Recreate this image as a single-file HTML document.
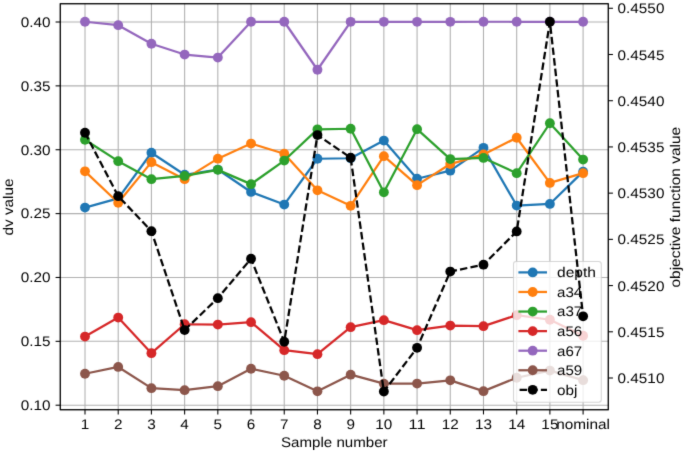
<!DOCTYPE html>
<html><head><meta charset="utf-8"><title>chart</title>
<style>html,body{margin:0;padding:0;background:#fff;width:685px;height:453px;overflow:hidden}text{font-family:"Liberation Sans",sans-serif;text-rendering:geometricPrecision}</style>
</head><body>
<svg width="685" height="453" viewBox="0 0 685 453" style="display:block;will-change:transform">
<defs><filter id="soft" x="0" y="0" width="685" height="453" filterUnits="userSpaceOnUse" color-interpolation-filters="sRGB"><feConvolveMatrix order="3" kernelMatrix="0.01134 0.08382 0.01134 0.08382 0.61935 0.08382 0.01134 0.08382 0.01134" edgeMode="duplicate"/></filter></defs>
<rect width="685" height="453" fill="#ffffff"/>
<g filter="url(#soft)">
<g stroke="#b0b0b0" stroke-width="1.070" fill="none">
<line x1="85.00" y1="3.75" x2="85.00" y2="409.75"/>
<line x1="118.21" y1="3.75" x2="118.21" y2="409.75"/>
<line x1="151.41" y1="3.75" x2="151.41" y2="409.75"/>
<line x1="184.62" y1="3.75" x2="184.62" y2="409.75"/>
<line x1="217.83" y1="3.75" x2="217.83" y2="409.75"/>
<line x1="251.03" y1="3.75" x2="251.03" y2="409.75"/>
<line x1="284.24" y1="3.75" x2="284.24" y2="409.75"/>
<line x1="317.45" y1="3.75" x2="317.45" y2="409.75"/>
<line x1="350.65" y1="3.75" x2="350.65" y2="409.75"/>
<line x1="383.86" y1="3.75" x2="383.86" y2="409.75"/>
<line x1="417.07" y1="3.75" x2="417.07" y2="409.75"/>
<line x1="450.27" y1="3.75" x2="450.27" y2="409.75"/>
<line x1="483.48" y1="3.75" x2="483.48" y2="409.75"/>
<line x1="516.69" y1="3.75" x2="516.69" y2="409.75"/>
<line x1="549.89" y1="3.75" x2="549.89" y2="409.75"/>
<line x1="583.10" y1="3.75" x2="583.10" y2="409.75"/>
<line x1="60.26" y1="405.20" x2="608.26" y2="405.20"/>
<line x1="60.26" y1="341.33" x2="608.26" y2="341.33"/>
<line x1="60.26" y1="277.47" x2="608.26" y2="277.47"/>
<line x1="60.26" y1="213.60" x2="608.26" y2="213.60"/>
<line x1="60.26" y1="149.73" x2="608.26" y2="149.73"/>
<line x1="60.26" y1="85.87" x2="608.26" y2="85.87"/>
<line x1="60.26" y1="22.00" x2="608.26" y2="22.00"/>
</g>
<polyline points="85.00,207.55 118.21,198.35 151.41,152.75 184.62,174.75 217.83,169.55 251.03,191.95 284.24,204.55 317.45,158.75 350.65,158.25 383.86,140.55 417.07,178.75 450.27,170.65 483.48,147.85 516.69,205.55 549.89,203.95 583.10,171.65" fill="none" stroke="#1f77b4" stroke-width="2.250" stroke-linejoin="round" stroke-linecap="butt"/>
<g fill="#1f77b4">
<circle cx="85.00" cy="207.55" r="4.920"/>
<circle cx="118.21" cy="198.35" r="4.920"/>
<circle cx="151.41" cy="152.75" r="4.920"/>
<circle cx="184.62" cy="174.75" r="4.920"/>
<circle cx="217.83" cy="169.55" r="4.920"/>
<circle cx="251.03" cy="191.95" r="4.920"/>
<circle cx="284.24" cy="204.55" r="4.920"/>
<circle cx="317.45" cy="158.75" r="4.920"/>
<circle cx="350.65" cy="158.25" r="4.920"/>
<circle cx="383.86" cy="140.55" r="4.920"/>
<circle cx="417.07" cy="178.75" r="4.920"/>
<circle cx="450.27" cy="170.65" r="4.920"/>
<circle cx="483.48" cy="147.85" r="4.920"/>
<circle cx="516.69" cy="205.55" r="4.920"/>
<circle cx="549.89" cy="203.95" r="4.920"/>
<circle cx="583.10" cy="171.65" r="4.920"/>
</g>
<polyline points="85.00,171.35 118.21,202.75 151.41,162.15 184.62,179.15 217.83,158.65 251.03,143.55 284.24,153.75 317.45,190.35 350.65,205.85 383.86,156.15 417.07,185.15 450.27,164.05 483.48,154.45 516.69,137.75 549.89,182.95 583.10,173.15" fill="none" stroke="#ff7f0e" stroke-width="2.250" stroke-linejoin="round" stroke-linecap="butt"/>
<g fill="#ff7f0e">
<circle cx="85.00" cy="171.35" r="4.920"/>
<circle cx="118.21" cy="202.75" r="4.920"/>
<circle cx="151.41" cy="162.15" r="4.920"/>
<circle cx="184.62" cy="179.15" r="4.920"/>
<circle cx="217.83" cy="158.65" r="4.920"/>
<circle cx="251.03" cy="143.55" r="4.920"/>
<circle cx="284.24" cy="153.75" r="4.920"/>
<circle cx="317.45" cy="190.35" r="4.920"/>
<circle cx="350.65" cy="205.85" r="4.920"/>
<circle cx="383.86" cy="156.15" r="4.920"/>
<circle cx="417.07" cy="185.15" r="4.920"/>
<circle cx="450.27" cy="164.05" r="4.920"/>
<circle cx="483.48" cy="154.45" r="4.920"/>
<circle cx="516.69" cy="137.75" r="4.920"/>
<circle cx="549.89" cy="182.95" r="4.920"/>
<circle cx="583.10" cy="173.15" r="4.920"/>
</g>
<polyline points="85.00,139.75 118.21,161.15 151.41,179.15 184.62,175.95 217.83,169.85 251.03,184.15 284.24,160.55 317.45,129.35 350.65,128.75 383.86,192.35 417.07,129.15 450.27,159.05 483.48,157.95 516.69,173.15 549.89,123.25 583.10,159.55" fill="none" stroke="#2ca02c" stroke-width="2.250" stroke-linejoin="round" stroke-linecap="butt"/>
<g fill="#2ca02c">
<circle cx="85.00" cy="139.75" r="4.920"/>
<circle cx="118.21" cy="161.15" r="4.920"/>
<circle cx="151.41" cy="179.15" r="4.920"/>
<circle cx="184.62" cy="175.95" r="4.920"/>
<circle cx="217.83" cy="169.85" r="4.920"/>
<circle cx="251.03" cy="184.15" r="4.920"/>
<circle cx="284.24" cy="160.55" r="4.920"/>
<circle cx="317.45" cy="129.35" r="4.920"/>
<circle cx="350.65" cy="128.75" r="4.920"/>
<circle cx="383.86" cy="192.35" r="4.920"/>
<circle cx="417.07" cy="129.15" r="4.920"/>
<circle cx="450.27" cy="159.05" r="4.920"/>
<circle cx="483.48" cy="157.95" r="4.920"/>
<circle cx="516.69" cy="173.15" r="4.920"/>
<circle cx="549.89" cy="123.25" r="4.920"/>
<circle cx="583.10" cy="159.55" r="4.920"/>
</g>
<polyline points="85.00,336.55 118.21,317.55 151.41,353.15 184.62,324.25 217.83,324.55 251.03,322.15 284.24,350.15 317.45,354.15 350.65,327.15 383.86,320.15 417.07,330.15 450.27,325.55 483.48,326.15 516.69,315.15 549.89,319.75 583.10,335.75" fill="none" stroke="#d62728" stroke-width="2.250" stroke-linejoin="round" stroke-linecap="butt"/>
<g fill="#d62728">
<circle cx="85.00" cy="336.55" r="4.920"/>
<circle cx="118.21" cy="317.55" r="4.920"/>
<circle cx="151.41" cy="353.15" r="4.920"/>
<circle cx="184.62" cy="324.25" r="4.920"/>
<circle cx="217.83" cy="324.55" r="4.920"/>
<circle cx="251.03" cy="322.15" r="4.920"/>
<circle cx="284.24" cy="350.15" r="4.920"/>
<circle cx="317.45" cy="354.15" r="4.920"/>
<circle cx="350.65" cy="327.15" r="4.920"/>
<circle cx="383.86" cy="320.15" r="4.920"/>
<circle cx="417.07" cy="330.15" r="4.920"/>
<circle cx="450.27" cy="325.55" r="4.920"/>
<circle cx="483.48" cy="326.15" r="4.920"/>
<circle cx="516.69" cy="315.15" r="4.920"/>
<circle cx="549.89" cy="319.75" r="4.920"/>
<circle cx="583.10" cy="335.75" r="4.920"/>
</g>
<polyline points="85.00,21.75 118.21,25.15 151.41,43.75 184.62,54.55 217.83,57.55 251.03,21.75 284.24,21.75 317.45,69.75 350.65,21.85 383.86,21.85 417.07,21.85 450.27,21.85 483.48,21.75 516.69,21.75 549.89,21.75 583.10,21.75" fill="none" stroke="#9467bd" stroke-width="2.250" stroke-linejoin="round" stroke-linecap="butt"/>
<g fill="#9467bd">
<circle cx="85.00" cy="21.75" r="4.920"/>
<circle cx="118.21" cy="25.15" r="4.920"/>
<circle cx="151.41" cy="43.75" r="4.920"/>
<circle cx="184.62" cy="54.55" r="4.920"/>
<circle cx="217.83" cy="57.55" r="4.920"/>
<circle cx="251.03" cy="21.75" r="4.920"/>
<circle cx="284.24" cy="21.75" r="4.920"/>
<circle cx="317.45" cy="69.75" r="4.920"/>
<circle cx="350.65" cy="21.85" r="4.920"/>
<circle cx="383.86" cy="21.85" r="4.920"/>
<circle cx="417.07" cy="21.85" r="4.920"/>
<circle cx="450.27" cy="21.85" r="4.920"/>
<circle cx="483.48" cy="21.75" r="4.920"/>
<circle cx="516.69" cy="21.75" r="4.920"/>
<circle cx="549.89" cy="21.75" r="4.920"/>
<circle cx="583.10" cy="21.75" r="4.920"/>
</g>
<polyline points="85.00,373.75 118.21,366.95 151.41,388.15 184.62,390.15 217.83,386.15 251.03,368.75 284.24,375.75 317.45,391.35 350.65,374.65 383.86,383.65 417.07,383.55 450.27,380.35 483.48,391.15 516.69,377.75 549.89,370.55 583.10,380.15" fill="none" stroke="#8c564b" stroke-width="2.250" stroke-linejoin="round" stroke-linecap="butt"/>
<g fill="#8c564b">
<circle cx="85.00" cy="373.75" r="4.920"/>
<circle cx="118.21" cy="366.95" r="4.920"/>
<circle cx="151.41" cy="388.15" r="4.920"/>
<circle cx="184.62" cy="390.15" r="4.920"/>
<circle cx="217.83" cy="386.15" r="4.920"/>
<circle cx="251.03" cy="368.75" r="4.920"/>
<circle cx="284.24" cy="375.75" r="4.920"/>
<circle cx="317.45" cy="391.35" r="4.920"/>
<circle cx="350.65" cy="374.65" r="4.920"/>
<circle cx="383.86" cy="383.65" r="4.920"/>
<circle cx="417.07" cy="383.55" r="4.920"/>
<circle cx="450.27" cy="380.35" r="4.920"/>
<circle cx="483.48" cy="391.15" r="4.920"/>
<circle cx="516.69" cy="377.75" r="4.920"/>
<circle cx="549.89" cy="370.55" r="4.920"/>
<circle cx="583.10" cy="380.15" r="4.920"/>
</g>
<rect x="60.26" y="3.75" width="548.00" height="406.00" fill="none" stroke="#000" stroke-width="0.95"/>
<g stroke="#000" stroke-width="1.070">
<line x1="85.00" y1="409.75" x2="85.00" y2="414.43"/>
<line x1="118.21" y1="409.75" x2="118.21" y2="414.43"/>
<line x1="151.41" y1="409.75" x2="151.41" y2="414.43"/>
<line x1="184.62" y1="409.75" x2="184.62" y2="414.43"/>
<line x1="217.83" y1="409.75" x2="217.83" y2="414.43"/>
<line x1="251.03" y1="409.75" x2="251.03" y2="414.43"/>
<line x1="284.24" y1="409.75" x2="284.24" y2="414.43"/>
<line x1="317.45" y1="409.75" x2="317.45" y2="414.43"/>
<line x1="350.65" y1="409.75" x2="350.65" y2="414.43"/>
<line x1="383.86" y1="409.75" x2="383.86" y2="414.43"/>
<line x1="417.07" y1="409.75" x2="417.07" y2="414.43"/>
<line x1="450.27" y1="409.75" x2="450.27" y2="414.43"/>
<line x1="483.48" y1="409.75" x2="483.48" y2="414.43"/>
<line x1="516.69" y1="409.75" x2="516.69" y2="414.43"/>
<line x1="549.89" y1="409.75" x2="549.89" y2="414.43"/>
<line x1="583.10" y1="409.75" x2="583.10" y2="414.43"/>
<line x1="60.26" y1="405.20" x2="55.58" y2="405.20"/>
<line x1="60.26" y1="341.33" x2="55.58" y2="341.33"/>
<line x1="60.26" y1="277.47" x2="55.58" y2="277.47"/>
<line x1="60.26" y1="213.60" x2="55.58" y2="213.60"/>
<line x1="60.26" y1="149.73" x2="55.58" y2="149.73"/>
<line x1="60.26" y1="85.87" x2="55.58" y2="85.87"/>
<line x1="60.26" y1="22.00" x2="55.58" y2="22.00"/>
</g>
<g font-family="Liberation Sans, sans-serif" font-size="14.0" fill="#000">
<text x="85.00" y="428.90" text-anchor="middle" textLength="8.51" lengthAdjust="spacingAndGlyphs">1</text>
<text x="118.21" y="428.90" text-anchor="middle" textLength="8.51" lengthAdjust="spacingAndGlyphs">2</text>
<text x="151.41" y="428.90" text-anchor="middle" textLength="8.51" lengthAdjust="spacingAndGlyphs">3</text>
<text x="184.62" y="428.90" text-anchor="middle" textLength="8.51" lengthAdjust="spacingAndGlyphs">4</text>
<text x="217.83" y="428.90" text-anchor="middle" textLength="8.51" lengthAdjust="spacingAndGlyphs">5</text>
<text x="251.03" y="428.90" text-anchor="middle" textLength="8.51" lengthAdjust="spacingAndGlyphs">6</text>
<text x="284.24" y="428.90" text-anchor="middle" textLength="8.51" lengthAdjust="spacingAndGlyphs">7</text>
<text x="317.45" y="428.90" text-anchor="middle" textLength="8.51" lengthAdjust="spacingAndGlyphs">8</text>
<text x="350.65" y="428.90" text-anchor="middle" textLength="8.51" lengthAdjust="spacingAndGlyphs">9</text>
<text x="383.86" y="428.90" text-anchor="middle" textLength="17.01" lengthAdjust="spacingAndGlyphs">10</text>
<text x="417.07" y="428.90" text-anchor="middle" textLength="17.01" lengthAdjust="spacingAndGlyphs">11</text>
<text x="450.27" y="428.90" text-anchor="middle" textLength="17.01" lengthAdjust="spacingAndGlyphs">12</text>
<text x="483.48" y="428.90" text-anchor="middle" textLength="17.01" lengthAdjust="spacingAndGlyphs">13</text>
<text x="516.69" y="428.90" text-anchor="middle" textLength="17.01" lengthAdjust="spacingAndGlyphs">14</text>
<text x="549.89" y="428.90" text-anchor="middle" textLength="17.01" lengthAdjust="spacingAndGlyphs">15</text>
<text x="583.10" y="428.90" text-anchor="middle" textLength="53.77" lengthAdjust="spacingAndGlyphs">nominal</text>
<text x="50.60" y="409.98" text-anchor="end" textLength="29.77" lengthAdjust="spacingAndGlyphs">0.10</text>
<text x="50.60" y="346.11" text-anchor="end" textLength="29.77" lengthAdjust="spacingAndGlyphs">0.15</text>
<text x="50.60" y="282.25" text-anchor="end" textLength="29.77" lengthAdjust="spacingAndGlyphs">0.20</text>
<text x="50.60" y="218.38" text-anchor="end" textLength="29.77" lengthAdjust="spacingAndGlyphs">0.25</text>
<text x="50.60" y="154.51" text-anchor="end" textLength="29.77" lengthAdjust="spacingAndGlyphs">0.30</text>
<text x="50.60" y="90.65" text-anchor="end" textLength="29.77" lengthAdjust="spacingAndGlyphs">0.35</text>
<text x="50.60" y="26.78" text-anchor="end" textLength="29.77" lengthAdjust="spacingAndGlyphs">0.40</text>
<text x="334.30" y="447.10" text-anchor="middle" textLength="106.56" lengthAdjust="spacingAndGlyphs">Sample number</text>
<text x="13.00" y="207.00" text-anchor="middle" textLength="57.17" lengthAdjust="spacingAndGlyphs" transform="rotate(-90 13.00 207.00)">dv value</text>
</g>
<rect x="513.5" y="261.5" width="87.80" height="140.80" rx="2.7" ry="2.7" fill="#ffffff" fill-opacity="0.8" stroke="#cccccc" stroke-opacity="0.8" stroke-width="1.070"/>
<g font-family="Liberation Sans, sans-serif" font-size="14.0" fill="#000">
<line x1="518.4" y1="272.40" x2="547.0" y2="272.40" stroke="#1f77b4" stroke-width="2.250"/>
<circle cx="532.70" cy="272.40" r="4.920" fill="#1f77b4"/>
<text x="557.00" y="277.30" text-anchor="start" textLength="38.92" lengthAdjust="spacingAndGlyphs">depth</text>
<line x1="518.4" y1="291.97" x2="547.0" y2="291.97" stroke="#ff7f0e" stroke-width="2.250"/>
<circle cx="532.70" cy="291.97" r="4.920" fill="#ff7f0e"/>
<text x="557.00" y="296.87" text-anchor="start" textLength="25.21" lengthAdjust="spacingAndGlyphs">a34</text>
<line x1="518.4" y1="311.55" x2="547.0" y2="311.55" stroke="#2ca02c" stroke-width="2.250"/>
<circle cx="532.70" cy="311.55" r="4.920" fill="#2ca02c"/>
<text x="557.00" y="316.45" text-anchor="start" textLength="25.21" lengthAdjust="spacingAndGlyphs">a37</text>
<line x1="518.4" y1="331.12" x2="547.0" y2="331.12" stroke="#d62728" stroke-width="2.250"/>
<circle cx="532.70" cy="331.12" r="4.920" fill="#d62728"/>
<text x="557.00" y="336.02" text-anchor="start" textLength="25.21" lengthAdjust="spacingAndGlyphs">a56</text>
<line x1="518.4" y1="350.70" x2="547.0" y2="350.70" stroke="#9467bd" stroke-width="2.250"/>
<circle cx="532.70" cy="350.70" r="4.920" fill="#9467bd"/>
<text x="557.00" y="355.60" text-anchor="start" textLength="25.21" lengthAdjust="spacingAndGlyphs">a67</text>
<line x1="518.4" y1="370.27" x2="547.0" y2="370.27" stroke="#8c564b" stroke-width="2.250"/>
<circle cx="532.70" cy="370.27" r="4.920" fill="#8c564b"/>
<text x="557.00" y="375.17" text-anchor="start" textLength="25.21" lengthAdjust="spacingAndGlyphs">a59</text>
<line x1="518.4" y1="389.85" x2="547.0" y2="389.85" stroke="#000000" stroke-width="2.250" stroke-dasharray="7.420 3.209" stroke-dashoffset="9.43"/>
<circle cx="532.70" cy="389.85" r="4.920" fill="#000000"/>
<text x="557.00" y="394.75" text-anchor="start" textLength="20.38" lengthAdjust="spacingAndGlyphs">obj</text>
</g>
<polyline points="85.00,132.75 118.21,196.15 151.41,231.15 184.62,330.05 217.83,298.15 251.03,258.75 284.24,341.75 317.45,135.05 350.65,157.75 383.86,391.55 417.07,347.85 450.27,271.55 483.48,264.65 516.69,231.45 549.89,21.75 583.10,316.35" fill="none" stroke="#000000" stroke-width="2.250" stroke-linejoin="round" stroke-linecap="butt" stroke-dasharray="7.443 3.219"/>
<g fill="#000000">
<circle cx="85.00" cy="132.75" r="4.920"/>
<circle cx="118.21" cy="196.15" r="4.920"/>
<circle cx="151.41" cy="231.15" r="4.920"/>
<circle cx="184.62" cy="330.05" r="4.920"/>
<circle cx="217.83" cy="298.15" r="4.920"/>
<circle cx="251.03" cy="258.75" r="4.920"/>
<circle cx="284.24" cy="341.75" r="4.920"/>
<circle cx="317.45" cy="135.05" r="4.920"/>
<circle cx="350.65" cy="157.75" r="4.920"/>
<circle cx="383.86" cy="391.55" r="4.920"/>
<circle cx="417.07" cy="347.85" r="4.920"/>
<circle cx="450.27" cy="271.55" r="4.920"/>
<circle cx="483.48" cy="264.65" r="4.920"/>
<circle cx="516.69" cy="231.45" r="4.920"/>
<circle cx="549.89" cy="21.75" r="4.920"/>
<circle cx="583.10" cy="316.35" r="4.920"/>
</g>
<rect x="60.26" y="3.75" width="548.00" height="406.00" fill="none" stroke="#000" stroke-width="0.95"/>
<g stroke="#000" stroke-width="1.070">
<line x1="608.26" y1="378.00" x2="612.94" y2="378.00"/>
<line x1="608.26" y1="331.79" x2="612.94" y2="331.79"/>
<line x1="608.26" y1="285.57" x2="612.94" y2="285.57"/>
<line x1="608.26" y1="239.36" x2="612.94" y2="239.36"/>
<line x1="608.26" y1="193.14" x2="612.94" y2="193.14"/>
<line x1="608.26" y1="146.93" x2="612.94" y2="146.93"/>
<line x1="608.26" y1="100.71" x2="612.94" y2="100.71"/>
<line x1="608.26" y1="54.50" x2="612.94" y2="54.50"/>
<line x1="608.26" y1="8.28" x2="612.94" y2="8.28"/>
</g>
<g font-family="Liberation Sans, sans-serif" font-size="14.0" fill="#000">
<text x="617.62" y="383.08" text-anchor="start" textLength="46.78" lengthAdjust="spacingAndGlyphs">0.4510</text>
<text x="617.62" y="336.87" text-anchor="start" textLength="46.78" lengthAdjust="spacingAndGlyphs">0.4515</text>
<text x="617.62" y="290.65" text-anchor="start" textLength="46.78" lengthAdjust="spacingAndGlyphs">0.4520</text>
<text x="617.62" y="244.44" text-anchor="start" textLength="46.78" lengthAdjust="spacingAndGlyphs">0.4525</text>
<text x="617.62" y="198.22" text-anchor="start" textLength="46.78" lengthAdjust="spacingAndGlyphs">0.4530</text>
<text x="617.62" y="152.01" text-anchor="start" textLength="46.78" lengthAdjust="spacingAndGlyphs">0.4535</text>
<text x="617.62" y="105.79" text-anchor="start" textLength="46.78" lengthAdjust="spacingAndGlyphs">0.4540</text>
<text x="617.62" y="59.58" text-anchor="start" textLength="46.78" lengthAdjust="spacingAndGlyphs">0.4545</text>
<text x="617.62" y="13.36" text-anchor="start" textLength="46.78" lengthAdjust="spacingAndGlyphs">0.4550</text>
<text x="679.70" y="207.20" text-anchor="middle" textLength="160.69" lengthAdjust="spacingAndGlyphs" transform="rotate(-90 679.70 207.20)">objective function value</text>
</g>
</g>
</svg>
</body></html>
